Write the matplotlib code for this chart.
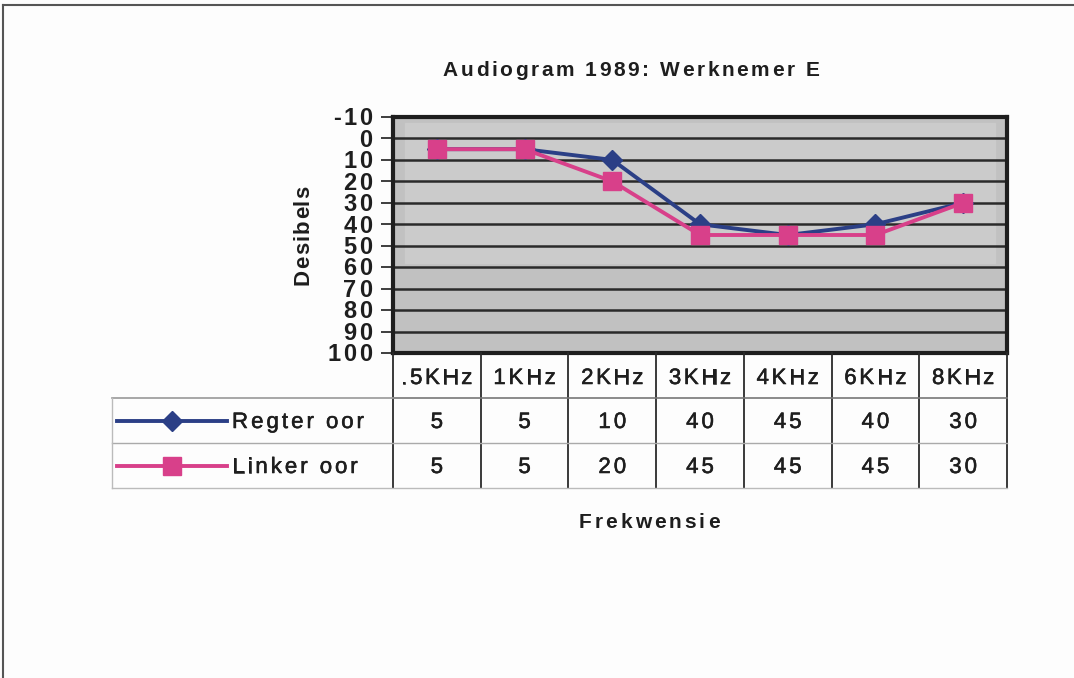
import matplotlib
matplotlib.use("Agg")
import matplotlib.pyplot as plt
from matplotlib.lines import Line2D
from matplotlib.font_manager import FontProperties
import matplotlib.patheffects as pe
import numpy as np

categories = [".5KHz", "1KHz", "2KHz", "3KHz", "4KHz", "6KHz", "8KHz"]
regter = [5, 5, 10, 40, 45, 40, 30]
linker = [5, 5, 20, 45, 45, 45, 30]
series_names = ["Regter oor", "Linker oor"]
yticks = [-10, 0, 10, 20, 30, 40, 50, 60, 70, 80, 90, 100]
title = "Audiogram 1989: Werknemer E"
xlabel = "Frekwensie"
ylabel = "Desibels"

W, H = 1074, 678
fig = plt.figure(figsize=(W / 100, H / 100), dpi=100)
fig.patch.set_facecolor("#fdfdfd")
plt.rcParams["font.family"] = ["Liberation Sans", "DejaVu Sans"]
renderer = fig.canvas.get_renderer()
TXT = "#1e1e1e"


def fx(px):
    return px / W


def fy(py):
    return 1 - py / H


def tw(s, prop):
    return renderer.get_text_width_height_descent(s, prop, ismath=False)[0]


def char_advances(s, prop):
    ref = tw("HH", prop)
    return [tw("H" + ch + "H", prop) - ref for ch in s]


def spaced(x_px, y_px, s, size, weight="normal", sp=3.0, ha="center", vertical=False,
           heavy=False):
    """Draw letter-spaced text; (x_px, y_px) is the anchor on the baseline."""
    prop = FontProperties(family=["Liberation Sans", "DejaVu Sans"], size=size, weight=weight)
    ws = char_advances(s, prop)
    total = sum(ws) + sp * (len(s) - 1)
    if ha == "center":
        start = -total / 2
    elif ha == "right":
        start = -total
    else:
        start = 0
    effects = [pe.withStroke(linewidth=0.4, foreground=TXT)] if heavy else None
    pos = start
    for ch, w in zip(s, ws):
        c = pos + w / 2
        if ch != " ":
            if vertical:
                fig.text(fx(x_px), fy(y_px - c), ch, fontproperties=prop, color=TXT,
                         ha="center", va="baseline", rotation=90, rotation_mode="anchor",
                         path_effects=effects)
            else:
                fig.text(fx(x_px + c), fy(y_px), ch, fontproperties=prop, color=TXT,
                         ha="center", va="baseline", path_effects=effects)
        pos += w + sp


# outer frame (top and left)
fig.add_artist(Line2D([fx(3), 1], [fy(5), fy(5)], color="#555555", lw=1.5))
fig.add_artist(Line2D([fx(3), fx(3)], [fy(5), 0], color="#555555", lw=1.5))

# main plot area
L, R, T, B = 393, 1007, 117, 353
ax = fig.add_axes([fx(L), fy(B), fx(R - L), (B - T) / H])
ax.set_facecolor("#c1c1c1")
x = np.arange(len(categories))
ax.set_xlim(-0.5, len(categories) - 0.5)
ax.set_ylim(100, -10)
ax.axhspan(-7, 58, xmin=0.02, xmax=0.98, color="#cbcbcb", zorder=0)
for v in yticks[1:-1]:
    ax.axhline(v, color="#2a2a2a", lw=1.8, zorder=1)
ax.set_yticks(yticks)
ax.set_yticklabels([])
ax.tick_params(axis="y", length=9, width=1.2, color=TXT)
ax.set_xticks([])
for s in ax.spines.values():
    s.set_color(TXT)
    s.set_linewidth(3)

blue = "#2b3f86"
pink = "#d8408a"
ax.plot(x, regter, color=blue, lw=2.8, marker="D", ms=10, mfc=blue, mec=blue, zorder=3)
ax.plot(x, linker, color=pink, lw=2.8, marker="s", ms=13, mfc=pink, mec=pink, zorder=4)

# y tick labels (letter-spaced, drawn at tick positions)
for v in yticks:
    ypx = H - ax.transData.transform((0, v))[1]
    spaced(372, ypx + 8.3, str(v), 17, "bold", sp=2.5, ha="right")

# titles
spaced(631, 76, title, 15, "bold", sp=2.6)
spaced(649, 528, xlabel, 15, "bold", sp=3.0)
spaced(309, 235, ylabel, 16, "bold", sp=1.2, vertical=True)

# data table
TT, TB = 353, 488
n = len(categories)
colw = (R - L) / n


def col_center(i):
    return L + colw * (i + 0.5)


tax = fig.add_axes([fx(L), fy(TB), fx(R - L), (TB - TT) / H])
tax.set_xlim(-0.5, n - 0.5)
tax.set_ylim(3, 0)
tax.axis("off")
for i in range(n + 1):
    tax.plot([i - 0.5, i - 0.5], [0, 3], color="#2a2a2a", lw=1.3, clip_on=False)
legend_left = -0.5 - (L - 112) / colw
tax.plot([-0.5, n - 0.5], [1, 1], color="#777777", lw=1.2, clip_on=False)
tax.plot([legend_left, n - 0.5], [2, 2], color="#aaaaaa", lw=1.0, clip_on=False)
tax.plot([legend_left, -0.5], [1, 1], color="#999999", lw=1.2, clip_on=False)
tax.plot([legend_left, n - 0.5], [3, 3], color="#bbbbbb", lw=1.0, clip_on=False)
tax.plot([legend_left, legend_left], [1, 3], color="#bbbbbb", lw=1.0, clip_on=False)

row_base = [384, 428, 473]
for i, c in enumerate(categories):
    spaced(col_center(i), row_base[0], c, 16, sp=2.6, heavy=True)
for row, vals in enumerate([regter, linker]):
    for i, v in enumerate(vals):
        spaced(col_center(i), row_base[row + 1], str(v), 16, sp=3.0, heavy=True)


def px2x(px):
    return -0.5 + (px - L) / colw


for row, (name, col, mk, ms) in enumerate(zip(series_names, [blue, pink], ["D", "s"], [10, 13])):
    yy = 1.5 + row
    tax.plot([px2x(117), px2x(227)], [yy, yy], color=col, lw=2.8, clip_on=False)
    tax.plot([px2x(172)], [yy], marker=mk, ms=ms, color=col, clip_on=False)
    spaced(232, row_base[row + 1], name, 16, sp=3.0, ha="left", heavy=True)

fig.savefig("out.png", dpi=100, facecolor=fig.get_facecolor())
